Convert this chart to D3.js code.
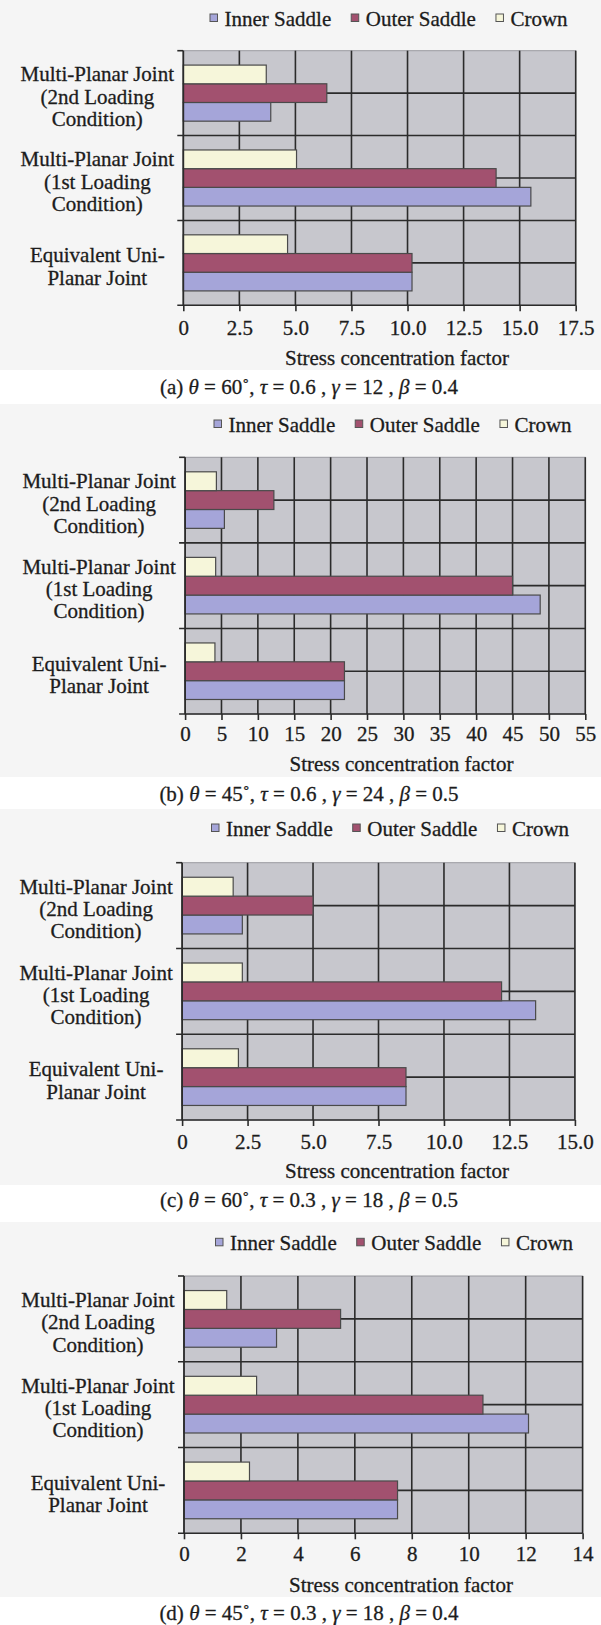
<!DOCTYPE html>
<html>
<head>
<meta charset="utf-8">
<script src="https://cdn.jsdelivr.net/npm/d3@7"></script>
<style>
  html, body { margin: 0; padding: 0; background: #ffffff; }
  svg { display: block; }
  text { font-family: "Liberation Serif", "Times New Roman", serif; fill: #1c1c1c; stroke: #1c1c1c; stroke-width: 0.3px; }
</style>
</head>
<body>
<svg id="fig" width="601" height="1625"></svg>
<script>
// Categories, listed from the top of each plot downwards
const categories = ["Multi-Planar Joint (2nd Loading Condition)", "Multi-Planar Joint (1st Loading Condition)", "Equivalent Uni-Planar Joint"];
const categoryLines = [
  ["Multi-Planar Joint", "(2nd Loading", "Condition)"],
  ["Multi-Planar Joint", "(1st Loading", "Condition)"],
  ["Equivalent Uni-", "Planar Joint"]
];
const seriesNames = ["Inner Saddle", "Outer Saddle", "Crown"];

// (a) θ = 60°, τ = 0.6, γ = 12, β = 0.4
const innerSaddleA = [3.9, 15.5, 10.2];
const outerSaddleA = [6.4, 13.95, 10.2];
const crownA = [3.7, 5.05, 4.65];
const ticksA = ["0", "2.5", "5.0", "7.5", "10.0", "12.5", "15.0", "17.5"];

// (b) θ = 45°, τ = 0.6, γ = 24, β = 0.5
const innerSaddleB = [5.4, 48.8, 21.9];
const outerSaddleB = [12.2, 45.0, 21.9];
const crownB = [4.3, 4.2, 4.1];
const ticksB = ["0", "5", "10", "15", "20", "25", "30", "35", "40", "45", "50", "55"];

// (c) θ = 60°, τ = 0.3, γ = 18, β = 0.5
const innerSaddleC = [2.3, 13.5, 8.55];
const outerSaddleC = [5.0, 12.2, 8.55];
const crownC = [1.95, 2.3, 2.15];
const ticksC = ["0", "2.5", "5.0", "7.5", "10.0", "12.5", "15.0"];

// (d) θ = 45°, τ = 0.3, γ = 18, β = 0.4
const innerSaddleD = [3.25, 12.1, 7.5];
const outerSaddleD = [5.5, 10.5, 7.5];
const crownD = [1.5, 2.55, 2.3];
const ticksD = ["0", "2", "4", "6", "8", "10", "12", "14"];

const captionA = [["(a) ", false], ["θ", true], [" = 60˚, ", false], ["τ", true], [" = 0.6 , ", false], ["γ", true], [" = 12 , ", false], ["β", true], [" = 0.4", false]];
const captionB = [["(b) ", false], ["θ", true], [" = 45˚, ", false], ["τ", true], [" = 0.6 , ", false], ["γ", true], [" = 24 , ", false], ["β", true], [" = 0.5", false]];
const captionC = [["(c) ", false], ["θ", true], [" = 60˚, ", false], ["τ", true], [" = 0.3 , ", false], ["γ", true], [" = 18 , ", false], ["β", true], [" = 0.5", false]];
const captionD = [["(d) ", false], ["θ", true], [" = 45˚, ", false], ["τ", true], [" = 0.3 , ", false], ["γ", true], [" = 18 , ", false], ["β", true], [" = 0.4", false]];

const axisTitle = "Stress concentration factor";

// Styling
const colors = { "Inner Saddle": "#a5a5d9", "Outer Saddle": "#a2516f", "Crown": "#f6f6da" };
const plotFill = "#c7c7cd";
const gridColor = "#2b2b2b";
const barStroke = "#4a4a4a";
const chartBg = "#f5f5f5";
const FONT = 21;
const FAMILY = '"Liberation Serif", "Times New Roman", serif';

// Panel geometry
const panels = [
  { inner: innerSaddleA, outer: outerSaddleA, crown: crownA, ticks: ticksA, caption: captionA,
    bg: [0, 370], left: 183.3, right: 575.7, top: 50.7, bottom: 305.3, legendY: 25.5, legendX: 210,
    tickY: 335, titleX: 397, titleY: 365, captionY: 394 },
  { inner: innerSaddleB, outer: outerSaddleB, crown: crownB, ticks: ticksB, caption: captionB,
    bg: [404, 777], left: 185.1, right: 585.3, top: 457.3, bottom: 714, legendY: 431.5, legendX: 214,
    tickY: 741, titleX: 401.5, titleY: 771, captionY: 800.5 },
  { inner: innerSaddleC, outer: outerSaddleC, crown: crownC, ticks: ticksC, caption: captionC,
    bg: [809, 1185], left: 182.1, right: 574.9, top: 862.7, bottom: 1120, legendY: 835.5, legendX: 211.5,
    tickY: 1148.7, titleX: 397, titleY: 1178, captionY: 1206.5 },
  { inner: innerSaddleD, outer: outerSaddleD, crown: crownD, ticks: ticksD, caption: captionD,
    bg: [1222, 1597], left: 184, right: 582.6, top: 1276, bottom: 1533.3, legendY: 1249.8, legendX: 215.5,
    tickY: 1561.3, titleX: 401, titleY: 1592, captionY: 1620 }
];

const svg = d3.select("#fig");

panels.forEach(p => {
  const g = svg.append("g");

  // chart area background
  g.append("rect").attr("x", 0).attr("y", p.bg[0]).attr("width", 601).attr("height", p.bg[1] - p.bg[0]).attr("fill", chartBg);

  const tickVals = p.ticks.map(Number);
  const x = d3.scaleLinear().domain([0, d3.max(tickVals)]).range([p.left, p.right]);
  const y = d3.scaleBand().domain(categories).range([p.top, p.bottom]).padding(0);
  const barOrder = ["Crown", "Outer Saddle", "Inner Saddle"];
  const yInner = d3.scaleBand().domain(barOrder).range([0, y.bandwidth()]).paddingInner(0).paddingOuter(0.77);

  // plot area
  g.append("rect").attr("x", p.left).attr("y", p.top).attr("width", p.right - p.left).attr("height", p.bottom - p.top)
    .attr("fill", plotFill).attr("stroke", "#9a9aa0").attr("stroke-width", 1);

  // vertical gridlines
  g.append("g").selectAll("line").data(tickVals.slice(1)).join("line")
    .attr("x1", d => x(d)).attr("x2", d => x(d)).attr("y1", p.top).attr("y2", p.bottom)
    .attr("stroke", gridColor).attr("stroke-width", 1.6);

  // horizontal lines through category centres
  g.append("g").selectAll("line").data(categories).join("line")
    .attr("x1", p.left).attr("x2", p.right)
    .attr("y1", d => y(d) + y.bandwidth() / 2).attr("y2", d => y(d) + y.bandwidth() / 2)
    .attr("stroke", gridColor).attr("stroke-width", 1.6);

  // category boundary lines with outward ticks
  const bounds = categories.map(c => y(c)).concat([p.bottom]);
  g.append("g").selectAll("line").data(bounds).join("line")
    .attr("x1", p.left - 6).attr("x2", (d, i) => i === 0 ? p.left : p.right)
    .attr("y1", d => d).attr("y2", d => d)
    .attr("stroke", gridColor).attr("stroke-width", 1.6);

  // bars
  const rows = [];
  categories.forEach((c, i) => {
    rows.push({ cat: c, s: "Inner Saddle", v: p.inner[i] });
    rows.push({ cat: c, s: "Outer Saddle", v: p.outer[i] });
    rows.push({ cat: c, s: "Crown", v: p.crown[i] });
  });
  g.append("g").selectAll("rect").data(rows).join("rect")
    .attr("x", x(0))
    .attr("y", d => y(d.cat) + yInner(d.s))
    .attr("width", d => x(d.v) - x(0))
    .attr("height", yInner.bandwidth())
    .attr("fill", d => colors[d.s])
    .attr("stroke", barStroke).attr("stroke-width", 1.2);

  // value axis with tick marks and labels
  const axis = d3.axisBottom(x).tickValues(tickVals).tickFormat((d, i) => p.ticks[i]).tickSize(6).tickPadding(0);
  const ax = g.append("g").attr("transform", `translate(0,${p.bottom})`).call(axis)
    .attr("font-family", FAMILY).attr("font-size", FONT);
  ax.select(".domain").remove();
  ax.selectAll(".tick line").attr("stroke", gridColor).attr("stroke-width", 1.6);
  ax.selectAll(".tick text")
    .attr("y", null).attr("dy", null)
    .attr("transform", `translate(0,${p.tickY - p.bottom})`)
    .style("font-family", FAMILY)
    .style("font-size", FONT + "px").attr("fill", "#1c1c1c");

  // category axis line
  g.append("line").attr("x1", p.left).attr("x2", p.left).attr("y1", p.top).attr("y2", p.bottom)
    .attr("stroke", gridColor).attr("stroke-width", 1.8);

  // category labels
  const labelCx = p.left - 86;
  categories.forEach((c, i) => {
    const lines = categoryLines[i];
    const cy = y(c) + y.bandwidth() / 2 + 3.5;
    const lh = 22.3;
    lines.forEach((ln, j) => {
      g.append("text")
        .attr("x", labelCx)
        .attr("y", cy + (j - (lines.length - 1) / 2) * lh + 7)
        .attr("text-anchor", "middle")
        .style("font-size", FONT + "px")
        .text(ln);
    });
  });

  // legend
  let lx = p.legendX;
  seriesNames.forEach(s => {
    g.append("rect").attr("x", lx).attr("y", p.legendY - 11.5).attr("width", 7.5).attr("height", 7.5)
      .attr("fill", colors[s]).attr("stroke", "#555").attr("stroke-width", 1);
    const t = g.append("text").attr("x", lx + 14.5).attr("y", p.legendY).style("font-size", FONT + "px").text(s);
    lx = lx + 14.5 + t.node().getComputedTextLength() + 20;
  });

  // axis title
  g.append("text").attr("x", p.titleX).attr("y", p.titleY).attr("text-anchor", "middle")
    .style("font-size", FONT + "px").text(axisTitle);

  // caption
  const cap = g.append("text").attr("x", 309).attr("y", p.captionY).attr("text-anchor", "middle")
    .style("font-size", FONT + "px");
  p.caption.forEach(([txt, it]) => {
    cap.append("tspan").style("font-style", it ? "italic" : "normal").text(txt);
  });
});
</script>
</body>
</html>
